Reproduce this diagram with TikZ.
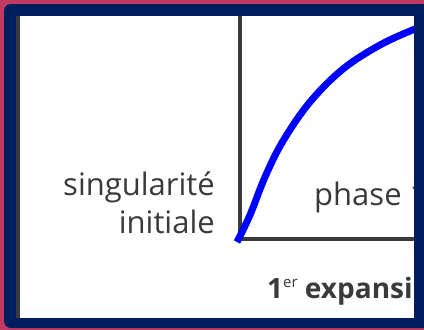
\documentclass[tikz,border=0pt]{standalone}
\usepackage{fontspec}
\setmainfont{Open Sans}
\definecolor{pinkbg}{HTML}{C13A62}
\definecolor{navy}{HTML}{001E5E}
\definecolor{txtgray}{HTML}{3A3A3A}
\definecolor{curveblue}{HTML}{0000FF}
\begin{document}
\begin{tikzpicture}[x=1pt,y=-1pt,
  lbl/.style={text=txtgray,font=\fontsize{31}{37}\selectfont,inner sep=0pt},
  axis/.style={draw=txtgray,line width=4pt}]
\useasboundingbox (0,0) rectangle (424,330);
\fill[pinkbg] (0,0) rectangle (424,330);
\fill[navy,rounded corners=7pt] (4,4) rectangle (440,328);
\fill[white] (16,16) rectangle (414,318);
\begin{scope}
\clip (16,16) rectangle (414,318);
\fill[txtgray] (16,16) rectangle (20,318);
\coordinate (top) at (240,16);
\coordinate (o) at (240,239);
\coordinate (xr) at (430,239);
\draw[axis] (top) -- (o) -- (xr);
\draw[curveblue,line width=7pt] plot[smooth,tension=0.6] coordinates
  {(237,242) (250,215) (265,177) (283,141) (310,102) (343,69) (380,45) (415,29) (430,24)};
\node[lbl,anchor=base east] (s1) at (215,195) {singularité};
\node[lbl,anchor=base east] (s2) at (215,233) {initiale};
\node[lbl,anchor=base west] (ph) at (314,205) {phase 1};
\node[lbl,anchor=base west,font=\fontsize{28}{33}\selectfont\bfseries] (ex) at (267,298) {1\raisebox{11pt}{\fontsize{15}{18}\selectfont\mdseries er} expansi};
\end{scope}
\end{tikzpicture}
\end{document}
